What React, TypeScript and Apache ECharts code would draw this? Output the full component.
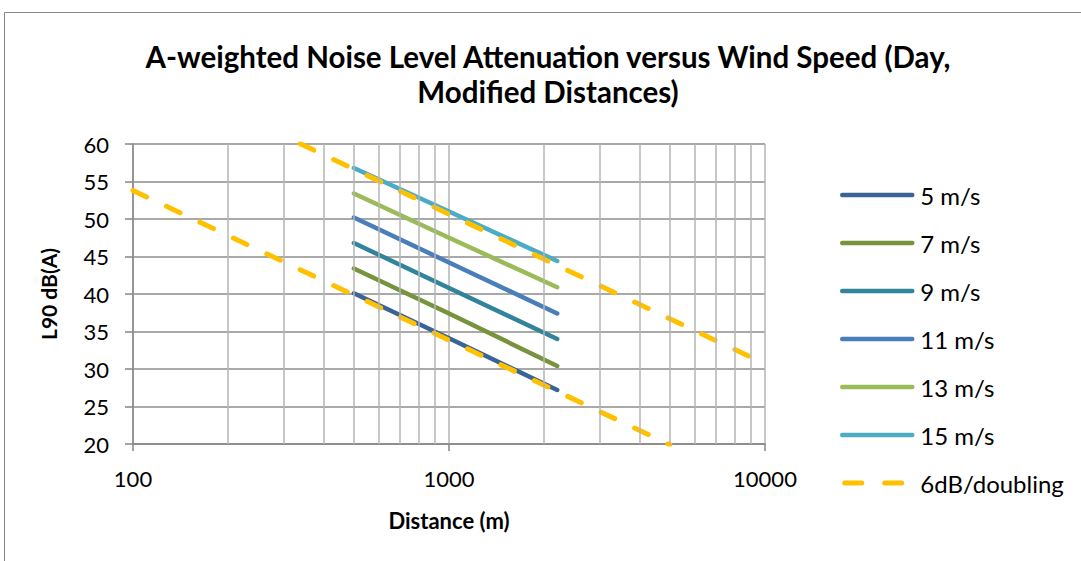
import React, { useEffect, useRef } from "react";
import * as echarts from "echarts";

const distances = [500, 1000, 2200];
const speedNames = ["5 m/s", "7 m/s", "9 m/s", "11 m/s", "13 m/s", "15 m/s"];
const speed5 = [40.1, 34.1, 27.2];
const speed7 = [43.4, 37.4, 30.4];
const speed9 = [46.8, 40.8, 34.0];
const speed11 = [50.2, 44.2, 37.4];
const speed13 = [53.4, 47.5, 40.9];
const speed15 = [56.8, 51.0, 44.4];
const speedColors = ["#3a6496", "#77933c", "#31849b", "#4a7ebb", "#9bbb59", "#4bacc6"];

const refName = "6dB/doubling";
const lowerRefX = [100, 5000];
const lowerRefY = [53.8, 19.9];
const upperRefX = [100, 9000];
const upperRefY = [70.6, 31.6];

const minorDistances = [200, 300, 400, 500, 600, 700, 800, 900, 2000, 3000, 4000, 5000, 6000, 7000, 8000, 9000];

const titleText = "A-weighted Noise Level Attenuation versus Wind Speed (Day,\nModified Distances)";
const xName = "Distance (m)";
const yName = "L90 dB(A)";

const FONT = "Lato, 'Open Sans', sans-serif";
const dashIcon =
  "path://M2.5,4.5h17a2.5,2.5 0 0 1 0,5h-17a2.5,2.5 0 0 1 0,-5z M42.5,4.5h17a2.5,2.5 0 0 1 0,5h-17a2.5,2.5 0 0 1 0,-5z M0,0h0.01v0.01h-0.01z M69.99,13.99h0.01v0.01h-0.01z";

export default function App() {
  const ref = useRef<HTMLDivElement>(null);
  useEffect(() => {
    if (!ref.current) return;
    const chart = echarts.init(ref.current, null, { renderer: "svg" });
    const speedSeries = [speed5, speed7, speed9, speed11, speed13, speed15];
    const series: any[] = [];
    series.push({
      name: "__grid",
      type: "line",
      data: [],
      z: 1,
      silent: true,
      markLine: {
        silent: true,
        symbol: "none",
        label: { show: false },
        lineStyle: { color: "#b4b4b4", width: 1.5, type: "solid" },
        data: minorDistances.map((d) => ({ xAxis: d })),
        animation: false,
      },
    });
    speedSeries.forEach((vals, i) => {
      series.push({
        name: speedNames[i],
        type: "line",
        z: 3,
        showSymbol: false,
        symbol: "none",
        data: distances.map((d, j) => [d, vals[j]]),
        lineStyle: { color: speedColors[i], width: 4.5, cap: "round", join: "round" },
        itemStyle: { color: speedColors[i] },
      });
    });
    const refStyle = { color: "#ffc000", width: 5, type: [15, 22], cap: "round" };
    series.push({
      name: refName,
      type: "line",
      z: 4,
      symbol: "none",
      showSymbol: false,
      data: lowerRefX.map((d, j) => [d, lowerRefY[j]]),
      lineStyle: refStyle,
      itemStyle: { color: "#ffc000" },
    });
    series.push({
      name: refName,
      type: "line",
      z: 4,
      symbol: "none",
      showSymbol: false,
      clip: true,
      data: upperRefX.map((d, j) => [d, upperRefY[j]]),
      lineStyle: refStyle,
      itemStyle: { color: "#ffc000" },
    });

    chart.setOption({
      animation: false,
      textStyle: { fontFamily: FONT },
      graphic: [
        {
          type: "rect",
          shape: { x: 4.5, y: 12.5, width: 1200, height: 700 },
          style: { fill: "none", stroke: "#868686", lineWidth: 1 },
          silent: true,
        },
        {
          type: "text",
          x: 548,
          y: 39,
          style: {
            text: titleText,
            fontFamily: FONT,
            fontWeight: "bold",
            fontSize: 29.5,
            lineHeight: 35,
            fill: "#000",
            textAlign: "center",
          },
        },
      ],
      legend: {
        orient: "vertical",
        left: 835,
        top: 178,
        itemWidth: 70,
        itemHeight: 14,
        itemGap: 24,
        data: [
          ...speedNames,
          {
            name: refName,
            icon: dashIcon,
            itemStyle: { opacity: 1, color: "#ffc000", borderWidth: 0 },
          },
        ],
        itemStyle: { opacity: 0 },
        lineStyle: { width: 4.5 },
        textStyle: { fontFamily: FONT, fontSize: 24, color: "#000", padding: [0, 0, 0, 3] },
      },
      grid: { left: 133, top: 144, width: 632, height: 300, containLabel: false },
      xAxis: {
        type: "log",
        logBase: 10,
        min: 100,
        max: 10000,
        name: xName,
        nameLocation: "middle",
        nameGap: 65,
        nameTextStyle: { fontFamily: FONT, fontWeight: "bold", fontSize: 22, color: "#000" },
        axisLine: { show: true, lineStyle: { color: "#868686", width: 1.5 } },
        axisTick: { show: true, length: 7, lineStyle: { color: "#868686", width: 1.5 } },
        axisLabel: {
          fontFamily: FONT,
          fontSize: 22,
          color: "#000",
          margin: 23,
          formatter: (v: number) => String(Math.round(v)),
        },
        splitLine: { show: true, lineStyle: { color: "#b4b4b4", width: 1.5 } },
        minorTick: { show: false },
        minorSplitLine: { show: false },
      },
      yAxis: {
        type: "value",
        min: 20,
        max: 60,
        interval: 5,
        name: yName,
        nameLocation: "middle",
        nameRotate: 90,
        nameGap: 64,
        nameTextStyle: { fontFamily: FONT, fontWeight: "bold", fontSize: 21, color: "#000", padding: [0, 0, 10, 0] },
        axisLine: { show: true, lineStyle: { color: "#868686", width: 1.5 } },
        axisTick: { show: true, length: 8, lineStyle: { color: "#868686", width: 1.5 } },
        axisLabel: { fontFamily: FONT, fontSize: 22, color: "#000", margin: 24 },
        splitLine: { show: true, lineStyle: { color: "#8c8c8c", width: 1.5 } },
      },
      series,
    });
    return () => chart.dispose();
  }, []);
  return (
    <div
      ref={ref}
      style={{ position: "fixed", left: 0, top: 0, width: 1081, height: 561, background: "#fff" }}
    />
  );
}
